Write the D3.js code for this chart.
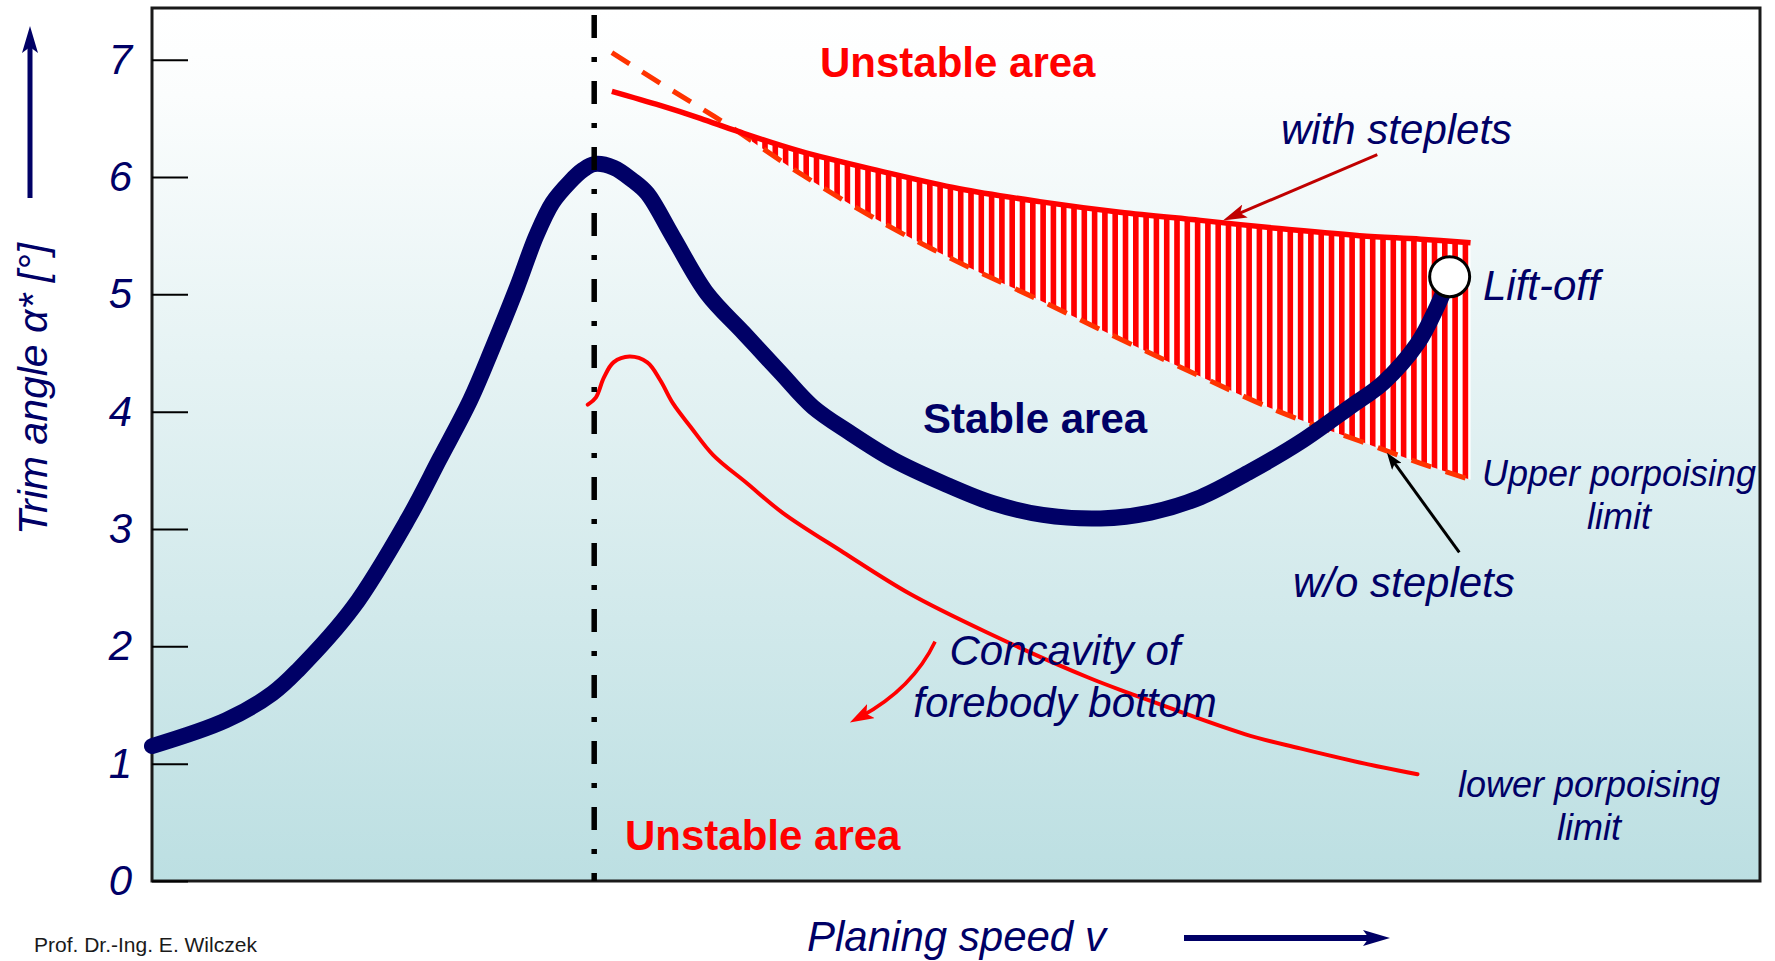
<!DOCTYPE html>
<html>
<head>
<meta charset="utf-8">
<script src="https://cdn.jsdelivr.net/npm/d3@7"></script>
<style>
  html, body { margin: 0; padding: 0; background: #ffffff; }
  svg { display: block; font-family: "Liberation Sans", Arial, Helvetica, sans-serif; }
</style>
</head>
<body>
<svg id="chart" width="1775" height="961"></svg>
<script>
// ---------------- data (planing speed in relative units, trim angle in degrees) ----------------
const trimTicks = [0, 1, 2, 3, 4, 5, 6, 7];

// running trim of the hull
const speedMain = [0, 4.6, 7.5, 9.1, 12.5, 15.9, 17.9, 19.8, 21.2, 22.7, 23.9, 24.9, 26.0, 26.8, 27.5,
                   28.7, 29.9, 30.8, 32.4, 34.5, 36.8, 39.1, 41.1, 43.4, 46.1, 49.2, 52.3, 55.4, 59.0,
                   62.1, 65.2, 68.3, 71.4, 74.5, 76.6, 78.7, 79.9, 80.7];
const trimMain  = [1.15, 1.37, 1.60, 1.80, 2.33, 3.08, 3.60, 4.10, 4.55, 5.06, 5.50, 5.78, 5.96, 6.06, 6.11,
                   6.08, 5.97, 5.86, 5.49, 5.01, 4.67, 4.33, 4.04, 3.82, 3.59, 3.39, 3.22, 3.12, 3.09,
                   3.14, 3.27, 3.49, 3.74, 4.04, 4.25, 4.58, 4.89, 5.15];

// upper porpoising limit, with and without steplets
const speedUpper      = [28.6, 31.6, 34.1, 36.4, 40.3, 45.3, 50.2, 55.2, 60.2, 65.2, 70.1, 75.1, 78.9, 82.0];
const withSteplets    = [6.73, 6.61, 6.50, 6.39, 6.22, 6.05, 5.90, 5.79, 5.70, 5.63, 5.56, 5.50, 5.47, 5.44];
const withoutSteplets = [7.06, 6.80, 6.59, 6.39, 6.03, 5.62, 5.27, 4.95, 4.62, 4.30, 4.00, 3.75, 3.56, 3.42];

// lower porpoising limit
const speedLower = [27.1, 27.6, 28.1, 28.7, 29.7, 30.8, 31.6, 32.4, 33.5, 34.9, 37.0, 39.2, 43.0, 47.1,
                    51.9, 58.3, 60.8, 68.0, 71.4, 75.1, 78.7];
const trimLower  = [4.06, 4.12, 4.29, 4.42, 4.47, 4.42, 4.27, 4.07, 3.87, 3.63, 3.39, 3.14, 2.80, 2.45,
                    2.12, 1.73, 1.60, 1.25, 1.13, 1.01, 0.91];

// hump speed (dash-dot marker) and lift-off point
const humpSpeed = 27.5;
const liftOff = [80.7, 5.15];

// annotation arrows, [speed, trim]
const arrowWith      = [[76.2, 6.19], [66.6, 5.63]];
const arrowWithout   = [[81.3, 2.80], [76.8, 3.65]];
const arrowConcavity = [[48.7, 2.04], [47.3, 1.64], [43.4, 1.35]];

// ---------------- layout ----------------
const NAVY = "#000066", RED = "#ff0000", DASHRED = "#ff3300";
const plot = { left: 152, top: 8, right: 1760, bottom: 881 };

const svg = d3.select("#chart");
const defs = svg.append("defs");

const x = d3.scaleLinear().domain([0, 100]).range([plot.left, plot.right]);
const y = d3.scaleLinear().domain([0, 7.44]).range([plot.bottom, plot.top]);

// background gradient of the plotting area
const grad = defs.append("linearGradient").attr("id", "bg")
  .attr("x1", 0).attr("y1", 0).attr("x2", 0).attr("y2", 1);
grad.append("stop").attr("offset", "0%").attr("stop-color", "#ffffff");
grad.append("stop").attr("offset", "10%").attr("stop-color", "#fbfdfd");
grad.append("stop").attr("offset", "100%").attr("stop-color", "#bcdfe2");

// vertical red hatch
const hatch = defs.append("pattern").attr("id", "hatch")
  .attr("patternUnits", "userSpaceOnUse").attr("width", 10.3).attr("height", 20);
hatch.append("rect").attr("width", 10.3).attr("height", 20).attr("fill", "#ffffff");
hatch.append("rect").attr("x", 0).attr("width", 5.6).attr("height", 20).attr("fill", RED);

function marker(id, color, len, half) {
  defs.append("marker").attr("id", id)
    .attr("viewBox", `0 ${-half} ${len} ${2 * half}`)
    .attr("refX", len).attr("refY", 0)
    .attr("markerUnits", "userSpaceOnUse")
    .attr("markerWidth", len).attr("markerHeight", 2 * half)
    .attr("orient", "auto")
    .append("path")
    .attr("d", `M0,${-half}L${len},0L0,${half}L${len * 0.22},0Z`)
    .attr("fill", color);
}
marker("mWith", "#c00000", 24, 7);
marker("mWithout", "#000000", 17, 6);
marker("mConc", RED, 24, 8);
marker("mAxis", NAVY, 27, 8);

// frame with gradient
svg.append("rect")
  .attr("x", plot.left).attr("y", plot.top)
  .attr("width", plot.right - plot.left).attr("height", plot.bottom - plot.top)
  .attr("fill", "url(#bg)").attr("stroke", "#1a1a1a").attr("stroke-width", 3);

// y ticks (inside) and labels
const yAxis = d3.axisLeft(y).tickValues(trimTicks).tickSizeInner(-36).tickSizeOuter(0).tickPadding(20)
  .tickFormat(d3.format("d"));
const gy = svg.append("g").attr("transform", `translate(${plot.left},0)`).call(yAxis);
gy.select(".domain").remove();
gy.selectAll(".tick line").attr("stroke", "#000").attr("stroke-width", 2);
gy.selectAll(".tick text")
  .attr("fill", NAVY).attr("font-size", 42).attr("font-style", "italic")
  .attr("font-family", "'Liberation Sans', Arial, sans-serif");

// hatched band between the two upper limits
const crossIdx = 3;
const band = d3.range(crossIdx, speedUpper.length);
const area = d3.area()
  .x(i => x(speedUpper[i]))
  .y0(i => y(withoutSteplets[i]))
  .y1(i => y(withSteplets[i]))
  .curve(d3.curveCatmullRom.alpha(0.5));
svg.append("path").attr("d", area(band)).attr("fill", "url(#hatch)");

const smooth = d3.curveCatmullRom.alpha(0.5);
const lineXY = d3.line().x(d => x(d[0])).y(d => y(d[1])).curve(smooth);

// upper limit without steplets (dashed)
svg.append("path")
  .attr("d", lineXY(speedUpper.map((s, i) => [s, withoutSteplets[i]])))
  .attr("fill", "none").attr("stroke", DASHRED).attr("stroke-width", 5)
  .attr("stroke-dasharray", "21,15");

// upper limit with steplets (solid)
svg.append("path")
  .attr("d", lineXY(speedUpper.map((s, i) => [s, withSteplets[i]])))
  .attr("fill", "none").attr("stroke", RED).attr("stroke-width", 5.5);

// lower porpoising limit
svg.append("path")
  .attr("d", lineXY(speedLower.map((s, i) => [s, trimLower[i]])))
  .attr("fill", "none").attr("stroke", RED).attr("stroke-width", 4)
  .attr("stroke-linecap", "round");

// running trim curve
svg.append("path")
  .attr("d", lineXY(speedMain.map((s, i) => [s, trimMain[i]])))
  .attr("fill", "none").attr("stroke", NAVY).attr("stroke-width", 16)
  .attr("stroke-linecap", "round").attr("stroke-linejoin", "round");

// hump speed marker (dash-dot)
svg.append("line")
  .attr("x1", x(humpSpeed)).attr("x2", x(humpSpeed))
  .attr("y1", plot.top + 7).attr("y2", plot.bottom)
  .attr("stroke", "#000").attr("stroke-width", 5.5)
  .attr("stroke-dasharray", "23,19,5,19");

// lift-off point
svg.append("circle")
  .attr("cx", x(liftOff[0])).attr("cy", y(liftOff[1])).attr("r", 20)
  .attr("fill", "#ffffff").attr("stroke", "#000").attr("stroke-width", 3);

// straight annotation arrows
function arrow(pts, color, width, id, back) {
  const [a, b] = pts.map(p => [x(p[0]), y(p[1])]);
  const dx = b[0] - a[0], dy = b[1] - a[1], L = Math.hypot(dx, dy);
  const e = [b[0] - dx / L * back, b[1] - dy / L * back];
  svg.append("line").attr("x1", a[0]).attr("y1", a[1]).attr("x2", e[0]).attr("y2", e[1])
    .attr("stroke", color).attr("stroke-width", width);
  svg.append("line").attr("x1", e[0]).attr("y1", e[1]).attr("x2", b[0]).attr("y2", b[1])
    .attr("stroke", "none").attr("marker-end", `url(#${id})`);
}
arrow(arrowWith, "#c00000", 3, "mWith", 12);
arrow(arrowWithout, "#000000", 3, "mWithout", 8);

// curved arrow for forebody concavity
{
  const [p0, c, p1] = arrowConcavity.map(p => [x(p[0]), y(p[1])]);
  const dx = p1[0] - c[0], dy = p1[1] - c[1], L = Math.hypot(dx, dy);
  const e = [p1[0] - dx / L * 12, p1[1] - dy / L * 12];
  const p = d3.path();
  p.moveTo(p0[0], p0[1]);
  p.quadraticCurveTo(c[0], c[1], e[0], e[1]);
  svg.append("path").attr("d", p.toString()).attr("fill", "none")
    .attr("stroke", RED).attr("stroke-width", 3.5);
  svg.append("line").attr("x1", e[0]).attr("y1", e[1]).attr("x2", p1[0]).attr("y2", p1[1])
    .attr("stroke", "none").attr("marker-end", "url(#mConc)");
}

// ---------------- texts ----------------
const labels = [
  { t: "Unstable area", x: 820, y: 77, size: 42, bold: true, color: RED },
  { t: "Unstable area", x: 625, y: 850, size: 42, bold: true, color: RED },
  { t: "Stable area", x: 923, y: 433, size: 42, bold: true, color: NAVY },
  { t: "with steplets", x: 1281, y: 144, size: 42, italic: true, color: NAVY },
  { t: "Lift-off", x: 1483, y: 300, size: 42, italic: true, color: NAVY },
  { t: "w/o steplets", x: 1293, y: 597, size: 42, italic: true, color: NAVY },
  { t: "Upper porpoising", x: 1619, y: 486, size: 36, italic: true, color: NAVY, anchor: "middle" },
  { t: "limit", x: 1619, y: 529, size: 36, italic: true, color: NAVY, anchor: "middle" },
  { t: "Concavity of", x: 1065, y: 665, size: 42, italic: true, color: NAVY, anchor: "middle" },
  { t: "forebody bottom", x: 1065, y: 717, size: 42, italic: true, color: NAVY, anchor: "middle" },
  { t: "lower porpoising", x: 1589, y: 797, size: 36, italic: true, color: NAVY, anchor: "middle" },
  { t: "limit", x: 1589, y: 840, size: 36, italic: true, color: NAVY, anchor: "middle" },
  { t: "Planing speed v", x: 807, y: 951, size: 42, italic: true, color: NAVY },
  { t: "Prof. Dr.-Ing. E. Wilczek", x: 34, y: 952, size: 21, color: "#1a1a1a" }
];
svg.append("g").selectAll("text").data(labels).join("text")
  .attr("x", d => d.x).attr("y", d => d.y)
  .attr("font-size", d => d.size)
  .attr("font-weight", d => d.bold ? "bold" : "normal")
  .attr("font-style", d => d.italic ? "italic" : "normal")
  .attr("text-anchor", d => d.anchor || "start")
  .attr("fill", d => d.color)
  .text(d => d.t);

// y axis title with arrow
svg.append("text")
  .attr("transform", "translate(47,389) rotate(-90)")
  .attr("text-anchor", "middle").attr("font-size", 41).attr("font-style", "italic")
  .attr("fill", NAVY)
  .text("Trim angle α* [°]");
svg.append("line").attr("x1", 30).attr("y1", 198).attr("x2", 30).attr("y2", 40)
  .attr("stroke", NAVY).attr("stroke-width", 5);
svg.append("line").attr("x1", 30).attr("y1", 40).attr("x2", 30).attr("y2", 26)
  .attr("stroke", "none").attr("marker-end", "url(#mAxis)");

// x axis arrow
svg.append("line").attr("x1", 1184).attr("y1", 938).attr("x2", 1376).attr("y2", 938)
  .attr("stroke", NAVY).attr("stroke-width", 6);
svg.append("line").attr("x1", 1376).attr("y1", 938).attr("x2", 1390).attr("y2", 938)
  .attr("stroke", "none").attr("marker-end", "url(#mAxis)");
</script>
</body>
</html>
